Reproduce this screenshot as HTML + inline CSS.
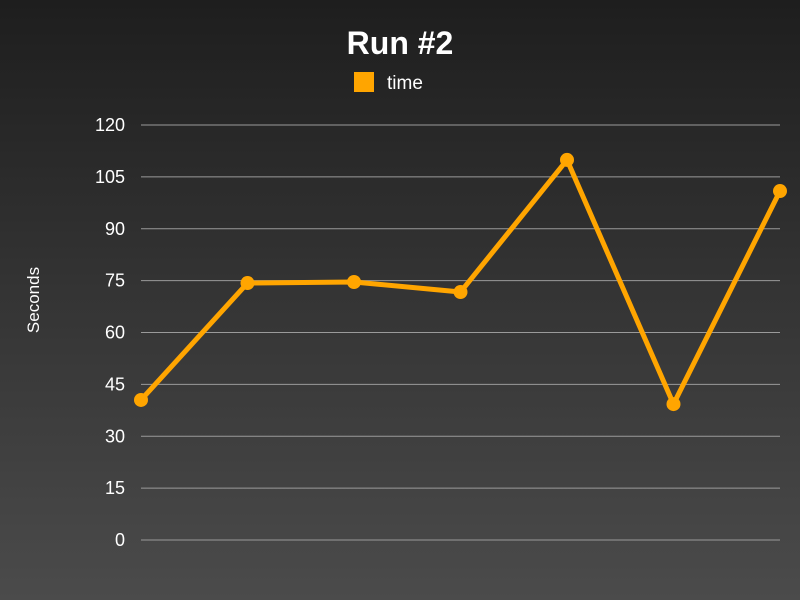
<!DOCTYPE html>
<html><head><meta charset="utf-8"><style>
html,body{margin:0;padding:0;}
body{width:800px;height:600px;background:linear-gradient(#1e1e1e,#4b4b4b);font-family:"Liberation Sans",sans-serif;overflow:hidden;}
svg{display:block;}
</style></head><body>
<svg id="chart" width="800" height="600" xmlns="http://www.w3.org/2000/svg">
<text x="400" y="54" text-anchor="middle" fill="#fff" font-size="32" font-weight="bold">Run #2</text>
<g>
<rect x="354" y="72" width="20" height="20" fill="#ffa500"/>
<text x="387" y="89" fill="#fff" font-size="19">time</text>
</g>
<text transform="translate(39,300) rotate(-90)" text-anchor="middle" fill="#fff" font-size="17">Seconds</text>
<g id="grid"></g><g id="series"></g>
</svg>
<script>
const categories=["1","2","3","4","5","6","7"];
const timeValues=[40.5,74.3,74.6,71.7,109.9,39.3,100.9];
const yTicks=[0,15,30,45,60,75,90,105,120];
const x0=141,x1=780,yb=540,yt=125,yMax=120;
const xs=i=>x0+i*(x1-x0)/(categories.length-1);
const ys=v=>yb-v*(yb-yt)/yMax;
const NS="http://www.w3.org/2000/svg";
const grid=document.getElementById('grid'),ser=document.getElementById('series');
yTicks.forEach(t=>{
 const l=document.createElementNS(NS,'line');
 
 
 l.setAttribute('x1',x0);l.setAttribute('x2',x1);l.setAttribute('y1',ys(t));l.setAttribute('y2',ys(t));
 l.setAttribute('stroke','#9a9a9a');l.setAttribute('stroke-width','1');grid.appendChild(l);
 const tx=document.createElementNS(NS,'text');
 
 
 tx.setAttribute('x',125);tx.setAttribute('y',ys(t)+6);tx.setAttribute('text-anchor','end');
 tx.setAttribute('fill','#fff');tx.setAttribute('font-size','18');tx.textContent=t;grid.appendChild(tx);
});
const p=document.createElementNS(NS,'polyline');


p.setAttribute('points',timeValues.map((v,i)=>xs(i)+','+ys(v)).join(' '));
p.setAttribute('fill','none');p.setAttribute('stroke','#ffa500');p.setAttribute('stroke-width','5');p.setAttribute('stroke-linejoin','round');
ser.appendChild(p);
timeValues.forEach((v,i)=>{
 const c=document.createElementNS(NS,'circle');
 
 
 c.setAttribute('cx',xs(i));c.setAttribute('cy',ys(v));c.setAttribute('r','7');c.setAttribute('fill','#ffa500');
 ser.appendChild(c);
});
</script>
</body></html>
